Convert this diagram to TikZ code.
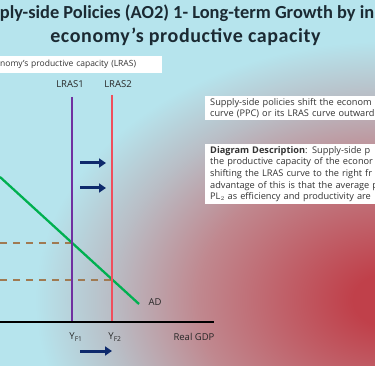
\documentclass[tikz,border=0pt]{standalone}
\usepackage{fontspec}
\setmainfont{Open Sans}
\newfontfamily\titlefont{Carlito}
\usetikzlibrary{arrows.meta}

\definecolor{bgcyan}{HTML}{B6E4ED}
\definecolor{bggray}{HTML}{B9BEC6}
\definecolor{bgpink}{HTML}{C0888F}
\definecolor{bgred}{HTML}{C0404A}
\definecolor{lraspurple}{HTML}{7030A0}
\definecolor{lrasred}{HTML}{F04E5C}
\definecolor{adgreen}{HTML}{00B050}
\definecolor{dashbrown}{HTML}{A07A52}
\definecolor{arrownavy}{HTML}{0E2A6C}
\definecolor{titleink}{HTML}{1B2A33}

\pgfdeclareradialshading{redglow}{\pgfpoint{0bp}{0bp}}{color(0bp)=(bgred); color(2.5bp)=(bgred); color(13bp)=(bgpink); color(19bp)=(bggray); color(24bp)=(bgcyan); color(25bp)=(bgcyan); color(50bp)=(bgcyan)}

\begin{document}
\begin{tikzpicture}[x=1pt, y=-1pt,
    lbl/.style={font=\fontsize{9.5}{10}\selectfont, text=black!85},
    infobox/.style={fill=white, anchor=north west, align=left, inner xsep=5pt, inner ysep=2pt,
        text width=175pt, font=\fontsize{9.2}{11.7}\selectfont, text=black!80},
    shiftarrow/.style={-{Triangle[length=7pt,width=9pt]}, line width=3pt, draw=arrownavy},
    guide/.style={draw=dashbrown, line width=1.5pt, dash pattern=on 7pt off 6pt}]
    \useasboundingbox (0,0) rectangle (375,366);
    \clip (0,0) rectangle (375,366);
    \fill[bgcyan] (0,0) rectangle (375,366);
    \shade[shading=redglow] (390,300) ellipse [x radius=370, y radius=270];

    % title and text boxes
    \node[font=\titlefont\bfseries\fontsize{18.4}{22}\selectfont, text=titleink, anchor=base] (title) at (187,18.3)
        {ply-side Policies (AO2) 1- Long-term Growth by in};
    \node[font=\titlefont\bfseries\fontsize{20}{22}\selectfont\addfontfeature{LetterSpace=3}, text=titleink, anchor=base] (subtitle) at (185.5,42.7)
        {economy’s productive capacity};
    \node[fill=white, anchor=north west, inner xsep=0pt, inner ysep=0pt, minimum height=17pt, text width=162pt,
        align=left, font=\fontsize{8.5}{10}\selectfont, text=black!80] (capbox) at (0,56)
        {nomy’s productive capacity (LRAS)};
    \node[infobox] (ppcbox) at (205,96)
        {Supply-side policies shift the econom\\curve (PPC) or its LRAS curve outward};
    \node[infobox] (descbox) at (205,144)
        {\textbf{Diagram Description}: Supply-side p\\the productive capacity of the econor\\shifting the LRAS curve to the right fr\\advantage of this is that the average p\\PL$_2$ as efficiency and productivity are};

    % points
    \coordinate (origin) at (0,322);
    \coordinate (xend) at (214,322);
    \coordinate (l1top) at (72,97);
    \coordinate (l1bot) at (72,322);
    \coordinate (l2top) at (112,95);
    \coordinate (l2bot) at (112,322);
    \coordinate (adtop) at (0,177);
    \coordinate (adbot) at (139,304);
    \coordinate (e1) at (72,243);
    \coordinate (e2) at (112,280);
    \coordinate (p1) at (0,243);
    \coordinate (p2) at (0,280);

    \draw[guide] (p1) -- (e1);
    \draw[guide] (p2) -- (e2);
    \draw[adgreen, line width=2.3pt] (adtop) -- (adbot);
    \draw[lraspurple, line width=2pt] (l1top) -- (l1bot);
    \draw[lrasred, line width=2pt] (l2top) -- (l2bot);
    \draw[black, line width=1.8pt] (origin) -- (xend);

    % labels
    \node[lbl] (lras1) at (70,84) {LRAS1};
    \node[lbl] (lras2) at (118,84) {LRAS2};
    \node[lbl] (adlbl) at (155,302) {AD};
    \node[lbl] (yf1) at (76,337) {Y\textsubscript{F1}};
    \node[lbl] (yf2) at (115,337) {Y\textsubscript{F2}};
    \node[lbl] (gdp) at (194,337) {Real GDP};

    % shift arrows
    \coordinate (a1s) at (80,163);
    \coordinate (a1e) at (106,163);
    \coordinate (a2s) at (80,188);
    \coordinate (a2e) at (106,188);
    \coordinate (a3s) at (80,351);
    \coordinate (a3e) at (112,351);
    \draw[shiftarrow] (a1s) -- (a1e);
    \draw[shiftarrow] (a2s) -- (a2e);
    \draw[shiftarrow] (a3s) -- (a3e);
\end{tikzpicture}
\end{document}
